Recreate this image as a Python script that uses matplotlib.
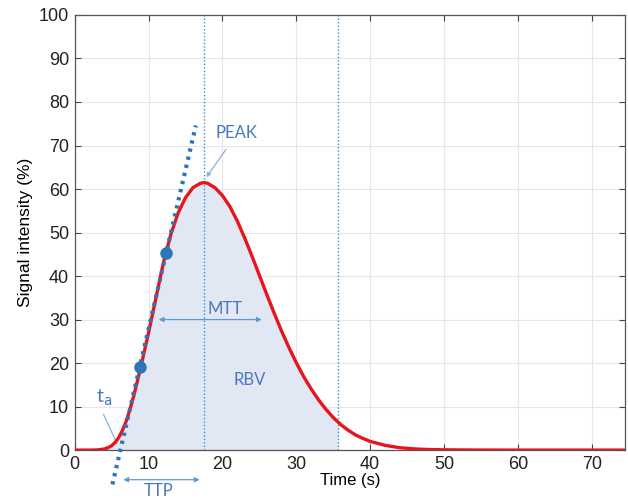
import numpy as np
import matplotlib.pyplot as plt

# signal curve (time in s, signal intensity in %)
time_s = [0, 2, 3, 4, 4.5, 5, 5.5, 6, 6.5, 7, 7.5, 8, 9, 10, 11, 12, 13, 14, 15, 16, 17,
          17.5, 18, 19, 20, 21, 22, 23, 24, 25, 26, 27, 28, 29, 30, 31, 32, 33, 34,
          35, 36, 37, 38, 39, 40, 42, 44, 46, 48, 50, 55, 60, 75]
signal = [0, 0, 0.03, 0.25, 0.55, 1.0, 1.8, 3.0, 4.7, 6.8, 9.5, 12.5, 19.5, 27, 35, 43,
          49.5, 54.5, 58, 60.3, 61.3, 61.5, 61.3, 60.3, 58.5, 56, 52.7, 48.8, 44.6,
          40.2, 35.8, 31.5, 27.4, 23.6, 20.1, 16.9, 14.1, 11.6, 9.4, 7.5, 5.9, 4.6,
          3.5, 2.7, 2.0, 1.1, 0.55, 0.27, 0.13, 0.06, 0.01, 0, 0]

# markers on the rising edge and the tangent drawn through them
dot_t = [8.8, 12.4]
dot_y = [19.1, 45.4]
tangent_t = [5.1, 16.4]
tangent_y = [-7.9, 74.6]

peak_t = 17.5
fill_end = 35.7
mtt_span = [11.0, 25.7]
mtt_level = 30
ttp_span = [6.2, 17.3]

blue = '#2e75b6'
text_blue = '#4a78c0'
line_blue = '#8db0d8'

plt.rcParams['font.family'] = ['Liberation Sans', 'DejaVu Sans']

fig = plt.figure(figsize=(6.28, 4.99), dpi=100)
ax = fig.add_axes([0.119, 0.098, 0.876, 0.872])

t = np.array(time_s)
y = np.array(signal)
ft = np.append(t[t < fill_end], fill_end)
fy = np.append(y[t < fill_end], np.interp(fill_end, t, y))
ax.fill_between(ft, fy, 0, color='#e1e8f4', lw=0, zorder=1)

ax.plot(t, y, color='#e8141c', lw=2.4, zorder=3)
ax.plot(tangent_t, tangent_y, color=blue, lw=3, ls=(0, (0.8, 1.2)),
        clip_on=False, zorder=4)
ax.plot(dot_t, dot_y, 'o', color=blue, ms=8, zorder=5)

for xv in [peak_t, fill_end]:
    ax.axvline(xv, color='#3a8fc8', lw=1, ls=(0, (1, 1.5)), zorder=2)

ann = dict(color=text_blue, fontsize=12, family=['Lato', 'DejaVu Sans'])
ax.text(21.9, 72.8, 'PEAK', ha='center', va='center', **ann)
ax.annotate('', xy=(17.6, 62.2), xytext=(20.7, 69.6),
            arrowprops=dict(arrowstyle='-|>', color=line_blue, lw=0.9,
                            mutation_scale=6))
ax.annotate('', xy=(mtt_span[0], mtt_level), xytext=(mtt_span[1], mtt_level),
            arrowprops=dict(arrowstyle='<|-|>', color='#5b9bd5', lw=0.9,
                            mutation_scale=7))
ax.text(20.4, 32.5, 'MTT', ha='center', va='center', **ann)
ax.text(23.7, 16, 'RBV', ha='center', va='center', **ann)
ax.text(4.0, 12.0, r't$_{\rm a}$', ha='center', va='center',
        color=text_blue, fontsize=14, family=['Lato', 'DejaVu Sans'])
ax.plot([3.9, 5.7], [8.2, 1.6], color=line_blue, lw=0.9)
ax.annotate('', xy=(ttp_span[0], -6.8), xytext=(ttp_span[1], -6.8),
            xycoords='data', annotation_clip=False,
            arrowprops=dict(arrowstyle='<|-|>', color='#5b9bd5', lw=0.9,
                            mutation_scale=7))
ax.text(11.3, -9.4, 'TTP', ha='center', va='center', clip_on=False, **ann)

ax.set_xlim(0, 74.5)
ax.set_ylim(0, 100)
ax.set_xticks(range(0, 71, 10))
ax.set_yticks(range(0, 101, 10))
ax.grid(color='#e6e6e6', lw=0.8)
ax.set_axisbelow(True)
ax.tick_params(direction='in', length=4, width=0.8, color='#444444',
               labelsize=13, top=True, right=True, labelcolor='#222222', pad=4)
for s in ax.spines.values():
    s.set_color('#555555')
    s.set_linewidth(0.9)
ax.set_xlabel('Time (s)', fontsize=12, labelpad=0)
ax.set_ylabel('Signal intensity (%)', fontsize=12.5, labelpad=4)

fig.savefig('out.png', dpi=100)
